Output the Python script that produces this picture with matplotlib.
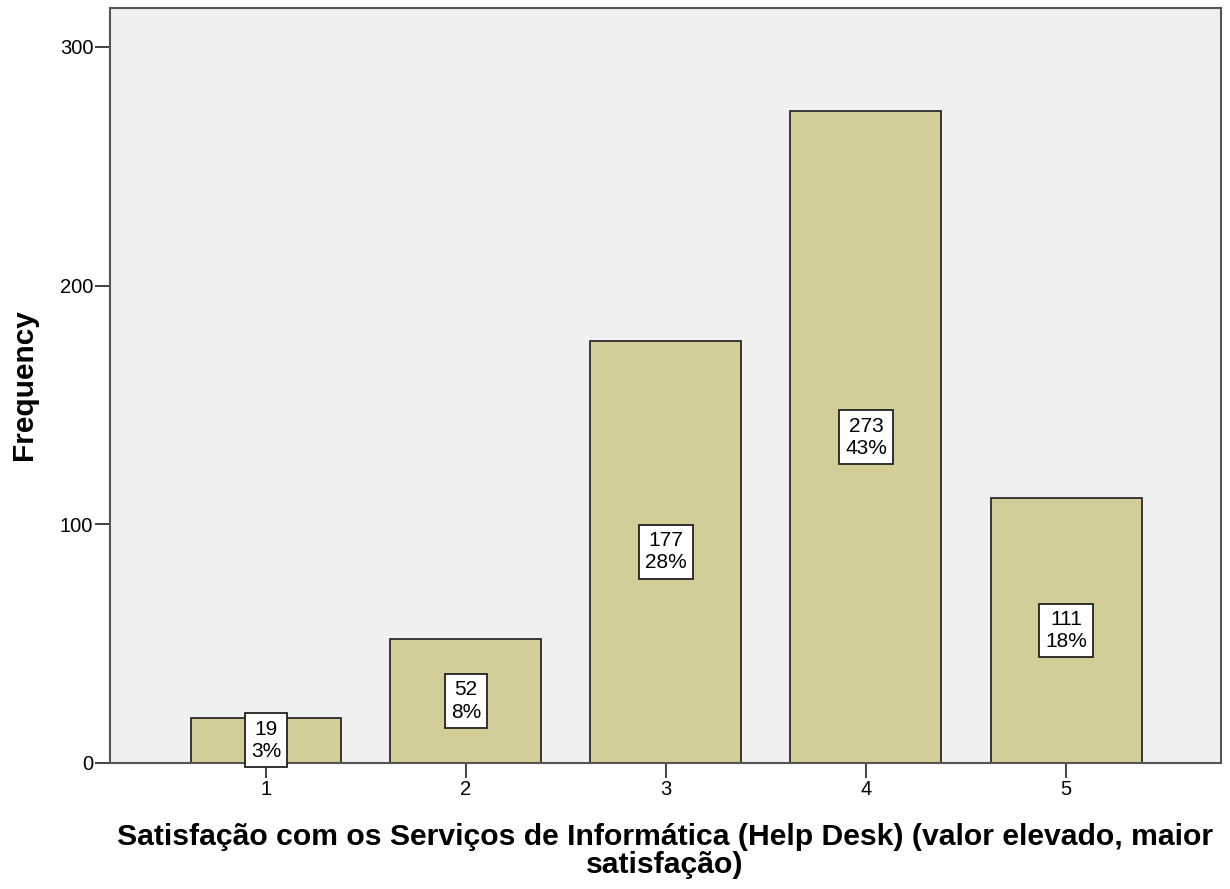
import matplotlib.pyplot as plt
import numpy as np

categories = ["1", "2", "3", "4", "5"]
counts = [19, 52, 177, 273, 111]
percents = ["3%", "8%", "28%", "43%", "18%"]

plt.rcParams['font.family'] = ['Liberation Sans', 'DejaVu Sans']

W, H = 1230, 889
fig = plt.figure(figsize=(W / 100, H / 100), dpi=100)
ax = fig.add_axes([110 / W, 1 - 763 / H, (1221 - 110) / W, (763 - 8) / H])
ax.set_facecolor("#f0f0f0")

x = np.arange(1, len(categories) + 1)
ax.bar(x, counts, width=0.755, color="#d3ce97", edgecolor="#2b2b2b", linewidth=1.3, zorder=2)

# count / percent boxes in the middle of each bar
for xi, c, p in zip(x, counts, percents):
    ax.text(xi, c / 2, f"{c}\n{p}", ha="center", va="center", fontsize=15,
            linespacing=1.22, zorder=3,
            bbox=dict(boxstyle="square,pad=0.3", facecolor="white", edgecolor="#222222", linewidth=1.3))

ax.set_xlim(0.22, 5.775)
ax.set_ylim(0, 316.3)
ax.set_yticks([0, 100, 200, 300])
ax.set_xticks(x)
ax.set_xticklabels(categories)
ax.tick_params(axis="both", labelsize=14.5, length=10.5, width=1.3, color="#333333", pad=1.5)

for s in ax.spines.values():
    s.set_color("#555555")
    s.set_linewidth(1.5)

fig.text(24 / W, 1 - 385 / H, "Frequency", rotation=90, ha="center", va="center",
         fontsize=21.5, fontweight="bold")
fig.text(665 / W, 1 - 851 / H,
         "Satisfação com os Serviços de Informática (Help Desk) (valor elevado, maior\nsatisfação)",
         ha="center", va="center", fontsize=21.7, fontweight="bold", linespacing=1.02)

fig.savefig("out.png", dpi=100)
